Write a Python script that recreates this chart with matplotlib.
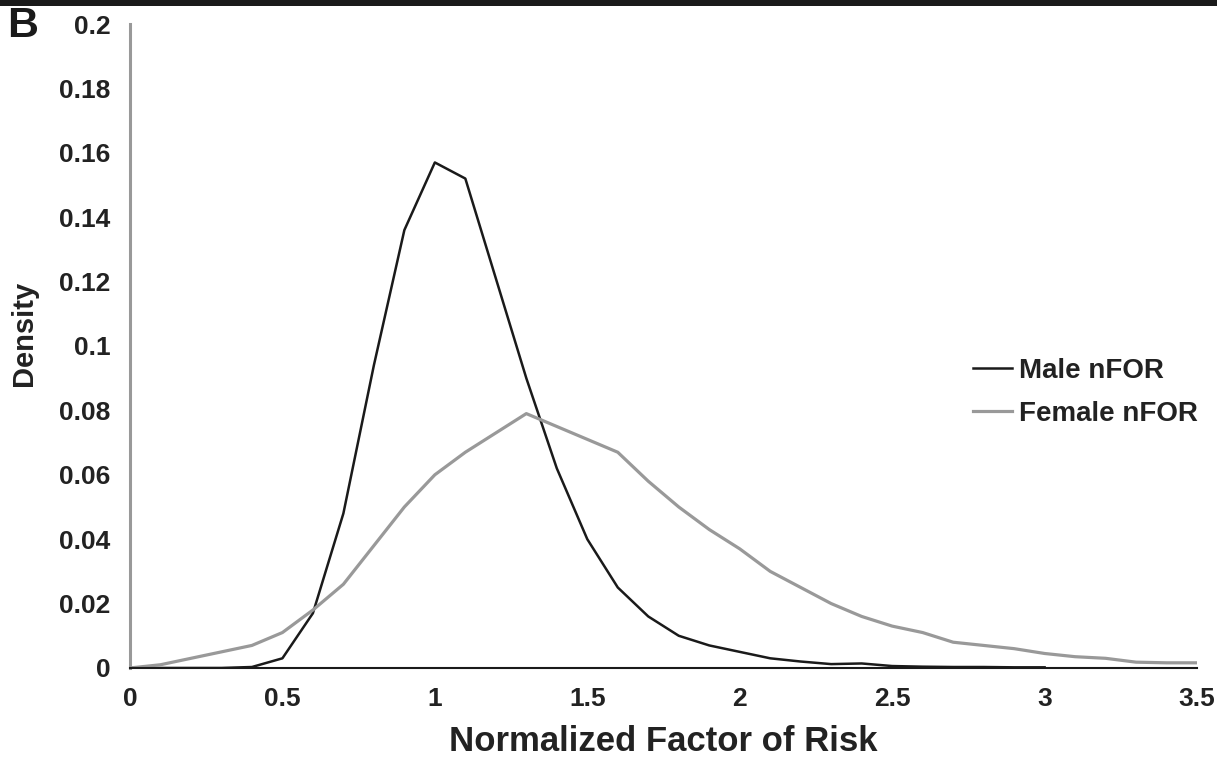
import matplotlib.pyplot as plt
import matplotlib.patches as patches

plt.rcParams["font.family"] = ["Liberation Sans", "DejaVu Sans"]
plt.rcParams["font.weight"] = "bold"

# values (step 0.1)
nfor = [round(0.1 * i, 1) for i in range(36)]
male_nfor_x = nfor[:31]
male_nfor = [0, 0, 0, 0, 0.0003, 0.003, 0.017, 0.048, 0.094, 0.136,
             0.157, 0.152, 0.121, 0.090, 0.062, 0.040, 0.025, 0.016, 0.010, 0.007,
             0.005, 0.003, 0.002, 0.0012, 0.0014, 0.0006, 0.0004, 0.0003, 0.0003, 0.0002,
             0.0002]
female_nfor = [0, 0.001, 0.003, 0.005, 0.007, 0.011, 0.018, 0.026, 0.038, 0.050,
               0.060, 0.067, 0.073, 0.079, 0.075, 0.071, 0.067, 0.058, 0.050, 0.043,
               0.037, 0.030, 0.025, 0.020, 0.016, 0.013, 0.011, 0.008, 0.007, 0.006,
               0.0045, 0.0035, 0.003, 0.0018, 0.0016, 0.0016]

x_ticks = [0, 0.5, 1, 1.5, 2, 2.5, 3, 3.5]
x_tick_labels = ["0", "0.5", "1", "1.5", "2", "2.5", "3", "3.5"]
y_ticks = [0, 0.02, 0.04, 0.06, 0.08, 0.1, 0.12, 0.14, 0.16, 0.18, 0.2]
y_tick_labels = ["0", "0.02", "0.04", "0.06", "0.08", "0.1", "0.12", "0.14", "0.16", "0.18", "0.2"]

txt = "#222222"
grey = "#999999"

fig = plt.figure(figsize=(12.17, 7.62), dpi=100)
ax = fig.add_axes([0.1068, 0.1234, 0.8768, 0.8451])

ax.plot(male_nfor_x, male_nfor, color="#1a1a1a", linewidth=1.8, label="Male nFOR")
ax.plot(nfor, female_nfor, color=grey, linewidth=2.3, label="Female nFOR")

ax.set_xlim(0, 3.5)
ax.set_ylim(0, 0.2)
ax.set_xticks(x_ticks)
ax.set_xticklabels(x_tick_labels, fontsize=19, fontweight="bold", color=txt)
ax.set_yticks(y_ticks)
ax.set_yticklabels(y_tick_labels, fontsize=19, fontweight="bold", color=txt)
ax.tick_params(axis="x", length=0, pad=14)
ax.tick_params(axis="y", length=0, pad=14)

for s in ["top", "right"]:
    ax.spines[s].set_visible(False)
ax.spines["left"].set_color(grey)
ax.spines["left"].set_linewidth(2.2)
ax.spines["bottom"].set_color("#1a1a1a")
ax.spines["bottom"].set_linewidth(1.5)

ax.set_xlabel("Normalized Factor of Risk", fontsize=25, fontweight="bold", color=txt)
ax.xaxis.set_label_coords(0.5, -0.088)
ax.set_ylabel("Density", fontsize=21, fontweight="bold", color=txt)
ax.yaxis.set_label_coords(-0.086, 0.519)

leg = ax.legend(loc="center left", bbox_to_anchor=(0.79, 0.428), frameon=False,
                fontsize=20, handlelength=1.4, handletextpad=0.25, labelspacing=0.6,
                borderpad=0, borderaxespad=0)
for t in leg.get_texts():
    t.set_color(txt)
    t.set_fontweight("bold")

# black band across the top of the panel
fig.patches.append(patches.Rectangle((0, 1 - 6 / 762), 1, 6 / 762, transform=fig.transFigure,
                                     facecolor="#1a1a1a", edgecolor="none"))
fig.text(0.006, 0.966, "B", fontsize=31, fontweight="bold", color="#1a1a1a", va="center", ha="left")

plt.savefig("out.png", dpi=100)
plt.close()
